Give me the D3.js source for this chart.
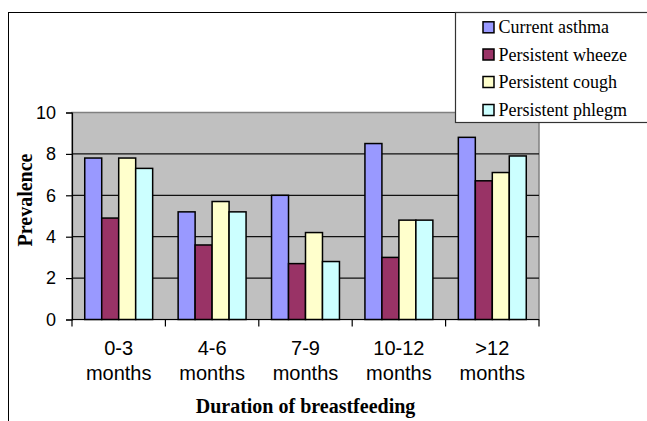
<!DOCTYPE html>
<html>
<head>
<meta charset="utf-8">
<script src="https://cdn.jsdelivr.net/npm/d3@7"></script>
<style>
  body { margin: 0; background: #fff; }
  svg { display: block; }
</style>
</head>
<body>
<div id="chart"></div>
<script>
// categories and series
var categories = ["0-3 months", "4-6 months", "7-9 months", "10-12 months", ">12 months"];
var seriesNames = ["Current asthma", "Persistent wheeze", "Persistent cough", "Persistent phlegm"];
var seriesColors = ["#9999FF", "#993366", "#FFFFCC", "#CCFFFF"];
var currentAsthma = [7.8, 5.2, 6.0, 8.5, 8.8];
var persistentWheeze = [4.9, 3.6, 2.7, 3.0, 6.7];
var persistentCough = [7.8, 5.7, 4.2, 4.8, 7.1];
var persistentPhlegm = [7.3, 5.2, 2.8, 4.8, 7.9];
var yTicks = [0, 2, 4, 6, 8, 10];

var seriesValues = [currentAsthma, persistentWheeze, persistentCough, persistentPhlegm];

var W = 647, H = 421;
var plot = {left: 72, right: 539, top: 112.5, bottom: 319.5};

var svg = d3.select("#chart").append("svg")
  .attr("width", W)
  .attr("height", H);

// outer chart frame (runs off the page to the right and bottom)
svg.append("rect")
  .attr("x", 8.5).attr("y", 12.5)
  .attr("width", W).attr("height", H)
  .attr("fill", "#fff")
  .attr("stroke", "#000")
  .attr("stroke-width", 1);

// scales
var x0 = d3.scaleBand()
  .domain(categories)
  .range([plot.left, plot.right])
  .paddingInner(0).paddingOuter(0);

// excel style gap width 150% -> 4 bars + 1.5 gaps
var x1 = d3.scaleBand()
  .domain(d3.range(seriesNames.length))
  .range([0, x0.bandwidth()])
  .paddingOuter(0.75)
  .paddingInner(0);

var y = d3.scaleLinear()
  .domain([0, 10])
  .range([plot.bottom, plot.top]);

// plot area
svg.append("rect")
  .attr("x", plot.left).attr("y", plot.top)
  .attr("width", plot.right - plot.left)
  .attr("height", plot.bottom - plot.top)
  .attr("fill", "#C0C0C0")
  .attr("stroke", "#808080")
  .attr("stroke-width", 1.5);

// gridlines
svg.append("g")
  .selectAll("line")
  .data(yTicks.filter(function(d){ return d > 0 && d < 10; }))
  .enter().append("line")
  .attr("x1", plot.left).attr("x2", plot.right)
  .attr("y1", function(d){ return y(d); })
  .attr("y2", function(d){ return y(d); })
  .attr("stroke", "#111")
  .attr("stroke-width", 1.2);

// bars
var groups = svg.append("g")
  .selectAll("g")
  .data(categories)
  .enter().append("g")
  .attr("transform", function(d){ return "translate(" + x0(d) + ",0)"; });

groups.selectAll("rect")
  .data(function(d, i){
    return seriesValues.map(function(vals, s){ return {s: s, v: vals[i]}; });
  })
  .enter().append("rect")
  .attr("x", function(d){ return x1(d.s); })
  .attr("y", function(d){ return y(d.v); })
  .attr("width", x1.bandwidth())
  .attr("height", function(d){ return y(0) - y(d.v); })
  .attr("fill", function(d){ return seriesColors[d.s]; })
  .attr("stroke", "#000")
  .attr("stroke-width", 1.5);

// y axis
var yAxis = svg.append("g")
  .attr("transform", "translate(" + plot.left + ",0)")
  .call(d3.axisLeft(y).tickValues(yTicks).tickSize(6).tickPadding(10));
yAxis.select(".domain").attr("stroke", "#000").attr("stroke-width", 1.2);
yAxis.selectAll(".tick line").attr("stroke", "#000").attr("stroke-width", 1.2);
yAxis.selectAll("text")
  .attr("font-family", "'Liberation Sans', Arial, sans-serif")
  .attr("font-size", 18)
  .attr("fill", "#000");

// x axis: ticks at category boundaries
var xAxis = svg.append("g")
  .attr("transform", "translate(0," + plot.bottom + ")");
xAxis.append("line")
  .attr("x1", plot.left).attr("x2", plot.right)
  .attr("stroke", "#000").attr("stroke-width", 1.2);
var bounds = categories.map(function(c){ return x0(c); }).concat([plot.right]);
xAxis.selectAll(".xt")
  .data(bounds)
  .enter().append("line")
  .attr("class", "xt")
  .attr("x1", function(d){ return d; }).attr("x2", function(d){ return d; })
  .attr("y1", 0).attr("y2", 7)
  .attr("stroke", "#000").attr("stroke-width", 1.2);

var xl = xAxis.selectAll(".xl")
  .data(categories)
  .enter().append("text")
  .attr("class", "xl")
  .attr("x", function(d){ return x0(d) + x0.bandwidth() / 2; })
  .attr("text-anchor", "middle")
  .attr("font-family", "'Liberation Sans', Arial, sans-serif")
  .attr("font-size", 20)
  .attr("fill", "#000");
xl.append("tspan")
  .attr("x", function(d){ return x0(d) + x0.bandwidth() / 2; })
  .attr("y", 35.5)
  .text(function(d){ return d.split(" ")[0]; });
xl.append("tspan")
  .attr("x", function(d){ return x0(d) + x0.bandwidth() / 2; })
  .attr("y", 60.5)
  .text(function(d){ return d.split(" ")[1]; });

// axis titles
svg.append("text")
  .attr("x", (plot.left + plot.right) / 2)
  .attr("y", 413)
  .attr("text-anchor", "middle")
  .attr("font-family", "'Liberation Serif', 'Times New Roman', serif")
  .attr("font-weight", "bold")
  .attr("font-size", 20)
  .text("Duration of breastfeeding");

svg.append("text")
  .attr("transform", "translate(32,200) rotate(-90)")
  .attr("text-anchor", "middle")
  .attr("font-family", "'Liberation Serif', 'Times New Roman', serif")
  .attr("font-weight", "bold")
  .attr("font-size", 20)
  .text("Prevalence");

// legend
var legend = svg.append("g");
legend.append("rect")
  .attr("x", 455.5).attr("y", 12.5)
  .attr("width", 200).attr("height", 110)
  .attr("fill", "#fff")
  .attr("stroke", "#333")
  .attr("stroke-width", 1.2);

var rows = [27.3, 54.5, 82, 110];
var items = legend.selectAll(".li")
  .data(seriesNames)
  .enter().append("g")
  .attr("class", "li")
  .attr("transform", function(d, i){ return "translate(0," + rows[i] + ")"; });
items.append("rect")
  .attr("x", 483).attr("y", -5.5)
  .attr("width", 11).attr("height", 11)
  .attr("fill", function(d, i){ return seriesColors[i]; })
  .attr("stroke", "#000")
  .attr("stroke-width", 1.5);
items.append("text")
  .attr("x", 498.5)
  .attr("y", 6)
  .attr("font-family", "'Liberation Serif', 'Times New Roman', serif")
  .attr("font-size", 18)
  .text(function(d){ return d; });
</script>
</body>
</html>
